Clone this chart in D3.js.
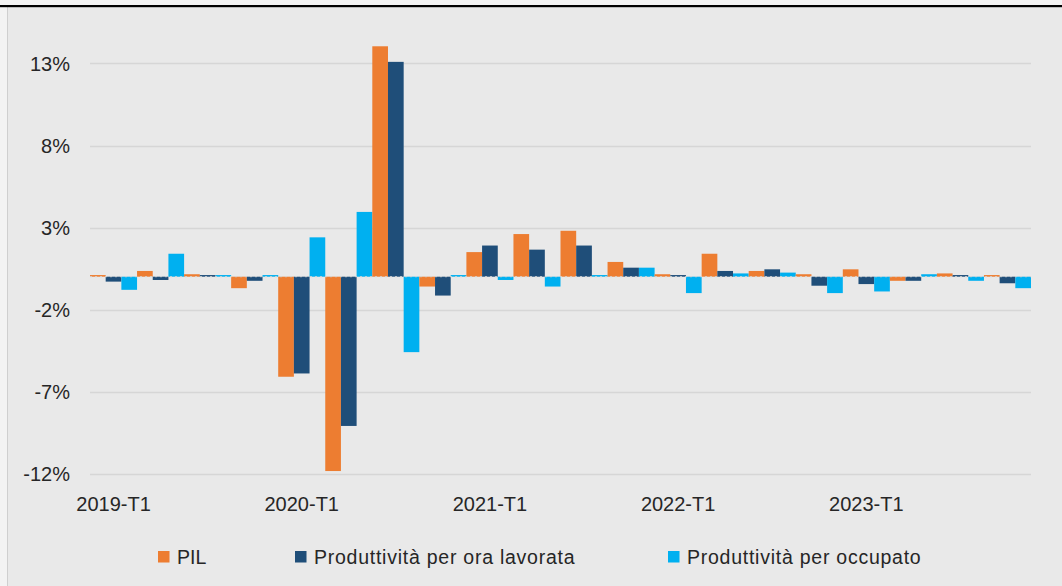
<!DOCTYPE html>
<html>
<head>
<meta charset="utf-8">
<script src="https://cdn.jsdelivr.net/npm/d3@7"></script>
<style>
  html, body { margin: 0; padding: 0; background: #f3f3f3; }
  svg { display: block; }
  text { font-family: "Liberation Sans", Arial, sans-serif; fill: #262626; }
</style>
</head>
<body>
<svg id="chart" width="1062" height="586"></svg>
<script>
// Quarterly variations (%), 2019-T1 .. 2023-T4
const quarters = [
  "2019-T1","2019-T2","2019-T3","2019-T4",
  "2020-T1","2020-T2","2020-T3","2020-T4",
  "2021-T1","2021-T2","2021-T3","2021-T4",
  "2022-T1","2022-T2","2022-T3","2022-T4",
  "2023-T1","2023-T2","2023-T3","2023-T4"
];
const pil        = [0.1, 0.35, 0.15, -0.7, -6.1, -11.85, 14.05, -0.6, 1.5, 2.6, 2.8, 0.9, 0.15, 1.4, 0.35, 0.15, 0.45, -0.25, 0.2, 0.1];
const oraLavor   = [-0.3, -0.2, 0.1, -0.25, -5.9, -9.1, 13.1, -1.15, 1.9, 1.65, 1.9, 0.55, 0.1, 0.35, 0.45, -0.55, -0.45, -0.25, 0.1, -0.4];
const occupato   = [-0.8, 1.4, 0.1, 0.1, 2.4, 3.95, -4.6, 0.1, -0.2, -0.6, 0.1, 0.55, -1.0, 0.2, 0.25, -1.0, -0.9, 0.15, -0.25, -0.7];

const seriesNames = ["PIL", "Produttività per ora lavorata", "Produttività per occupato"];
const seriesColors = ["#ED7D31", "#1F4E79", "#00B0F0"];
const yTicks = [-12, -7, -2, 3, 8, 13];
const xLabelQuarters = ["2019-T1", "2020-T1", "2021-T1", "2022-T1", "2023-T1"];

const seriesValues = [pil, oraLavor, occupato];

const svg = d3.select("#chart");
const W = 1062, H = 586;

// chart background and frame
svg.append("rect").attr("x", 8).attr("y", 7).attr("width", W - 8).attr("height", H - 7).attr("fill", "#e9e9e9");
svg.append("line").attr("x1", 7.5).attr("x2", 7.5).attr("y1", 7).attr("y2", H).attr("stroke", "#cfcfcf").attr("stroke-width", 1);
svg.append("rect").attr("x", 0).attr("y", 5).attr("width", W).attr("height", 2.2).attr("fill", "#000");

const plot = { left: 90, right: 1031, top: 30.7, bottom: 473.5 };

const x = d3.scaleBand().domain(quarters).range([plot.left, plot.right]).padding(0);
const xs = d3.scaleBand().domain(d3.range(seriesNames.length)).range([0, x.bandwidth()]).padding(0);
const y = d3.scaleLinear().domain([-12, 15]).range([plot.bottom, plot.top]);

// gridlines
svg.append("g")
  .selectAll("line")
  .data(yTicks)
  .join("line")
  .attr("x1", plot.left).attr("x2", plot.right)
  .attr("y1", d => Math.round(y(d)) + 0.5).attr("y2", d => Math.round(y(d)) + 0.5)
  .attr("stroke", "#d6d6d6").attr("stroke-width", 1.5);

// y axis labels
const yAxis = d3.axisLeft(y).tickValues(yTicks).tickSize(0).tickPadding(0).tickFormat(d => d + "%");
const gy = svg.append("g").attr("transform", "translate(70,0)").call(yAxis);
gy.select(".domain").remove();
gy.selectAll("text").attr("font-size", 20).attr("font-family", "Liberation Sans, Arial, sans-serif").attr("fill", "#262626").attr("dy", "0.35em");

// bars
const groups = svg.append("g")
  .selectAll("g")
  .data(quarters)
  .join("g")
  .attr("transform", d => `translate(${x(d)},0)`);

groups.selectAll("rect")
  .data((q, i) => seriesValues.map((vals, s) => ({ s, v: vals[i] })))
  .join("rect")
  .attr("x", d => xs(d.s))
  .attr("width", xs.bandwidth())
  .attr("y", d => y(Math.max(0, d.v)))
  .attr("height", d => Math.abs(y(d.v) - y(0)))
  .attr("fill", d => seriesColors[d.s]);

// zero line
svg.append("line")
  .attr("x1", plot.left).attr("x2", plot.right)
  .attr("y1", y(0)).attr("y2", y(0))
  .attr("stroke", "#d3d3d3").attr("stroke-width", 1).attr("stroke-dasharray", "2,3");

// x axis labels (one per year)
const xAxis = d3.axisBottom(x).tickValues(xLabelQuarters).tickSize(0).tickPadding(0);
const gx = svg.append("g").attr("transform", "translate(0,511)").call(xAxis);
gx.select(".domain").remove();
gx.selectAll("text").attr("font-size", 20).attr("font-family", "Liberation Sans, Arial, sans-serif").attr("fill", "#262626").attr("dy", 0);

// legend
const legendX = [158, 295, 668];
const legend = svg.append("g")
  .selectAll("g")
  .data(seriesNames)
  .join("g")
  .attr("transform", (d, i) => `translate(${legendX[i]},0)`);
legend.append("rect").attr("x", 0).attr("y", 551).attr("width", 11.5).attr("height", 11.5).attr("fill", (d, i) => seriesColors[i]);
legend.append("text").attr("x", 19).attr("y", 563.5).attr("font-size", 19.5)
  .attr("letter-spacing", (d, i) => i === 0 ? 0 : 0.75)
  .text(d => d);
</script>
</body>
</html>
